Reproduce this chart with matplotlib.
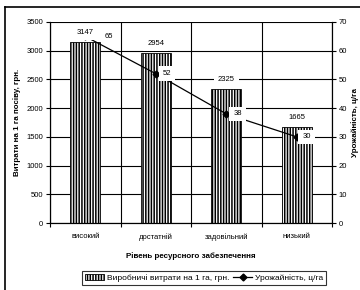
import matplotlib
matplotlib.use("Agg")
import matplotlib.pyplot as plt
from matplotlib.lines import Line2D
from matplotlib.patches import Patch
import numpy as np

categories = ["високий", "достатній", "задовільний", "низький"]
costs = [3147, 2954, 2325, 1665]
yields = [65, 52, 38, 30]
cost_label = "Виробничі витрати на 1 га, грн."
yield_label = "Урожайність, ц/га"
xlabel = "Рівень ресурсного забезпечення"
ylabel_left = "Витрати на 1 га посіву, грн."
ylabel_right = "Урожайність, ц/га"
left_ticks = list(range(0, 3501, 500))
right_ticks = list(range(0, 71, 10))

plt.rcParams['font.family'] = ['Liberation Sans', 'DejaVu Sans']
plt.rcParams['hatch.linewidth'] = 1.1

W, H = 360, 290
fig = plt.figure(figsize=(W / 100, H / 100), dpi=100)
L, R, T, B = 50, 332, 22, 223
ax = fig.add_axes([L / W, 1 - B / H, (R - L) / W, (B - T) / H])
ax2 = ax.twinx()

x = np.arange(len(categories))
ax.bar(x, costs, width=0.42, facecolor='white', edgecolor='black',
       hatch='||||||', linewidth=0.6, zorder=2)

ax.set_xlim(-0.5, len(categories) - 0.5)
ax.set_ylim(0, 3500)
ax.set_yticks(left_ticks)
ax.set_xticks(x)
ax.set_xticklabels(categories, fontsize=5.5)
ax.set_xticks(np.arange(-0.5, len(categories), 1.0), minor=True)
ax.tick_params(axis='x', which='major', length=0, pad=7)
ax.tick_params(axis='x', which='minor', length=3, direction='out', width=0.8)
ax.tick_params(axis='y', labelsize=5.5, length=3, width=0.8, pad=2)
ax.grid(True, axis='y', color='black', linewidth=0.8, zorder=0)
ax.grid(True, axis='x', which='minor', color='black', linewidth=0.8, zorder=0)
ax.set_axisbelow(True)
ax.spines['top'].set_visible(False)
for s in ['left', 'bottom', 'right']:
    ax.spines[s].set_linewidth(0.8)
ax.set_xlabel(xlabel, fontsize=5.8, fontweight='bold', labelpad=8)
ax.set_ylabel(ylabel_left, fontsize=5.8, fontweight='bold', labelpad=4)

ax2.set_ylim(0, 70)
ax2.set_yticks(right_ticks)
ax2.tick_params(axis='y', labelsize=5.5, length=3, width=0.8, pad=2)
ax2.spines['top'].set_visible(False)
ax2.spines['right'].set_linewidth(0.8)
ax2.set_ylabel(ylabel_right, fontsize=5.8, fontweight='bold', labelpad=3)
ax2.plot(x, yields, color='black', linewidth=0.9, marker='D', markersize=3.5,
         zorder=3)

for i, v in enumerate(costs):
    ax2.annotate(str(v), xy=(i, v), xycoords=ax.transData, xytext=(0, 7),
                 textcoords='offset points', ha='center', va='center',
                 fontsize=5.5, zorder=5,
                 bbox=dict(boxstyle='square,pad=0.5', facecolor='white',
                           edgecolor='none'))
offs = [14, 5, 5, 4]
for i, v in enumerate(yields):
    ax2.annotate(str(v), xy=(i, v), xytext=(offs[i], 0),
                 textcoords='offset points', ha='left', va='center',
                 fontsize=5.5, zorder=5,
                 bbox=dict(boxstyle='square,pad=0.5', facecolor='white',
                           edgecolor='none'))

handles = [Patch(facecolor='white', edgecolor='black', hatch='||||||',
                 linewidth=0.6),
           Line2D([], [], color='black', linewidth=0.9, marker='D',
                  markersize=3.5)]
leg = fig.legend(handles, [cost_label, yield_label], loc='center',
                 bbox_to_anchor=(204 / W, 1 - 278 / H), ncol=2,
                 fontsize=6, frameon=True, fancybox=False,
                 edgecolor='black', handlelength=2.3, handleheight=0.8,
                 columnspacing=0.5, handletextpad=0.3, borderpad=0.35,
                 borderaxespad=0)
leg.get_frame().set_linewidth(0.8)

fig.add_artist(Line2D([5 / W, 5 / W], [0, 1 - 7 / H], color='black',
                      linewidth=1.2, transform=fig.transFigure))
fig.add_artist(Line2D([5 / W, 1], [1 - 7 / H, 1 - 7 / H], color='black',
                      linewidth=1.2, transform=fig.transFigure))

fig.savefig("out.png", dpi=100, facecolor='white')
